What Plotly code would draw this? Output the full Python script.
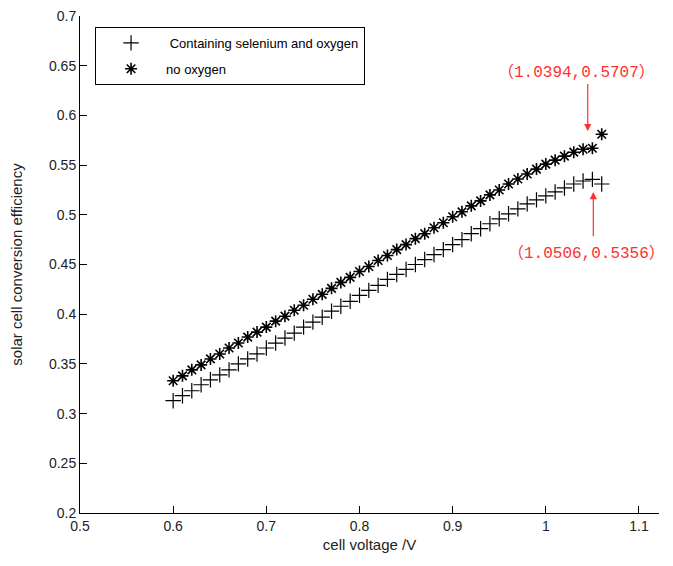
import plotly.graph_objects as go

voltage = [0.60, 0.61, 0.62, 0.63, 0.64, 0.65, 0.66, 0.67, 0.68, 0.69,
           0.70, 0.71, 0.72, 0.73, 0.74, 0.75, 0.76, 0.77, 0.78, 0.79,
           0.80, 0.81, 0.82, 0.83, 0.84, 0.85, 0.86, 0.87, 0.88, 0.89,
           0.90, 0.91, 0.92, 0.93, 0.94, 0.95, 0.96, 0.97, 0.98, 0.99,
           1.00, 1.01, 1.02, 1.03, 1.04, 1.05, 1.06]

eff_se_oxygen = [0.313, 0.318, 0.323, 0.329, 0.334, 0.339, 0.344, 0.350, 0.355, 0.360,
                 0.366, 0.371, 0.376, 0.381, 0.387, 0.392, 0.397, 0.403, 0.408, 0.413,
                 0.419, 0.424, 0.429, 0.435, 0.440, 0.445, 0.450, 0.455, 0.460, 0.465,
                 0.470, 0.475, 0.481, 0.486, 0.491, 0.496, 0.501, 0.506, 0.511, 0.515,
                 0.519, 0.523, 0.527, 0.531, 0.534, 0.5356, 0.531]

eff_no_oxygen = [0.333, 0.338, 0.344, 0.349, 0.355, 0.360, 0.366, 0.371, 0.377, 0.382,
                 0.387, 0.393, 0.398, 0.404, 0.409, 0.415, 0.420, 0.426, 0.432, 0.437,
                 0.443, 0.448, 0.454, 0.459, 0.465, 0.470, 0.476, 0.481, 0.487, 0.492,
                 0.498, 0.503, 0.509, 0.514, 0.520, 0.525, 0.531, 0.536, 0.541, 0.546,
                 0.551, 0.555, 0.559, 0.563, 0.566, 0.567, 0.581]

series_names = [" Containing selenium and oxygen", "no oxygen"]
x_ticks = [0.5, 0.6, 0.7, 0.8, 0.9, 1.0, 1.1]
x_tick_labels = ["0.5", "0.6", "0.7", "0.8", "0.9", "1", "1.1"]
y_ticks = [0.2, 0.25, 0.3, 0.35, 0.4, 0.45, 0.5, 0.55, 0.6, 0.65, 0.7]
y_tick_labels = ["0.2", "0.25", "0.3", "0.35", "0.4", "0.45", "0.5", "0.55", "0.6", "0.65", "0.7"]

ann_upper = {"text": "（1.0394,0.5707）", "x": 1.045, "y": 0.584, "ty": 0.633}
ann_lower = {"text": "（1.0506,0.5356）", "x": 1.051, "y": 0.523, "ty": 0.477}

fig = go.Figure()
fig.add_trace(go.Scatter(
    x=voltage, y=eff_se_oxygen, mode="markers", name=series_names[0], legendgroup="a",
    marker=dict(symbol="cross-thin-open", size=11, color="black",
                line=dict(color="black", width=1.2)),
))
fig.add_trace(go.Scatter(
    x=voltage, y=eff_no_oxygen, mode="markers", name=series_names[1], legendgroup="b",
    marker=dict(symbol="asterisk-open", size=10, color="black",
                line=dict(color="black", width=1.6)),
))

red = "#ff3030"
annot_font = dict(family="Liberation Mono, Noto Sans CJK SC, monospace", size=16, color=red)
fig.add_annotation(x=ann_upper["x"], y=ann_upper["y"], ax=ann_upper["x"], ay=ann_upper["ty"],
                   xref="x", yref="y", axref="x", ayref="y", text="", showarrow=True,
                   arrowhead=2, arrowsize=1.2, arrowwidth=1.2, arrowcolor=red)
fig.add_annotation(x=ann_upper["x"] - 0.012, y=ann_upper["ty"] - 0.001, xref="x", yref="y",
                   text=ann_upper["text"], showarrow=False, yanchor="bottom", font=annot_font)
fig.add_annotation(x=ann_lower["x"], y=ann_lower["y"], ax=ann_lower["x"], ay=ann_lower["ty"],
                   xref="x", yref="y", axref="x", ayref="y", text="", showarrow=True,
                   arrowhead=2, arrowsize=1.2, arrowwidth=1.2, arrowcolor=red)
fig.add_annotation(x=ann_lower["x"] - 0.007, y=ann_lower["ty"] - 0.004, xref="x", yref="y",
                   text=ann_lower["text"], showarrow=False, yanchor="top", font=annot_font)

axis_font = dict(family="Liberation Sans, Arial, sans-serif", size=14, color="#222")
fig.update_layout(
    width=665, height=558,
    margin=dict(l=72, r=14, t=8, b=53),
    paper_bgcolor="white", plot_bgcolor="white",
    font=axis_font,
    showlegend=True,
    legend=dict(x=0.026, y=0.978, xanchor="left", yanchor="top",
                bordercolor="black", borderwidth=1, bgcolor="white",
                font=dict(family="Liberation Sans, Arial, sans-serif", size=13, color="black"),
                itemwidth=60, tracegroupgap=6),
    xaxis=dict(range=[0.5, 1.1215], tickvals=x_ticks, ticktext=x_tick_labels,
               showline=True, linecolor="black", linewidth=1, mirror=False,
               ticks="inside", ticklen=7, tickcolor="black", showgrid=False, zeroline=False,
               ticklabeloverflow="allow", automargin=False,
               title=dict(text="cell voltage /V", font=dict(size=15), standoff=6)),
    yaxis=dict(range=[0.2, 0.7], tickvals=y_ticks, ticktext=y_tick_labels,
               showline=True, linecolor="black", linewidth=1, mirror=False,
               ticks="inside", ticklen=7, tickcolor="black", showgrid=False, zeroline=False,
               ticklabeloverflow="allow", automargin=False,
               title=dict(text="solar cell conversion efficiency", font=dict(size=15), standoff=22)),
)

fig.write_html("out.html")
